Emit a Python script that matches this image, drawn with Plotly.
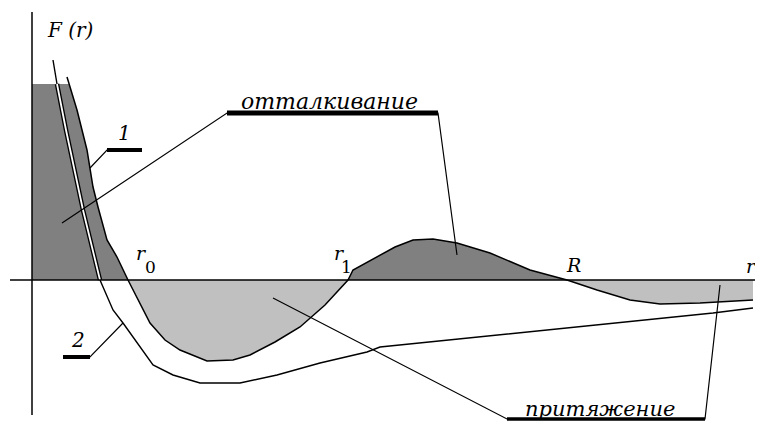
import plotly.graph_objects as go

# curve 1 (sharp line bounding the shaded areas): r, F(r)
r_curve1 = [3.5, 3.7, 4.5, 5.5, 6.1, 6.6, 7.5, 8.5, 9.6, 11.8, 13.3, 14.8, 17.5,
            20.1, 21.8, 24.3, 26.8, 29.3, 31.6, 32.1, 34.5, 36.3, 38.1, 40.1,
            42.5, 45.8, 49.8, 53.5, 56.5, 59.8, 62.8, 66.8, 72.1]
F_curve1 = [20.3, 19.6, 17.0, 13.0, 9.3, 7.3, 4.0, 2.3, 0.0, -4.3, -6.0, -7.0,
            -8.1, -8.0, -7.5, -6.2, -4.7, -2.5, 0.0, 1.0, 2.3, 3.3, 4.0, 4.1,
            3.7, 2.7, 1.0, 0.0, -1.0, -2.0, -2.4, -2.3, -2.0]

# curve 2 (smooth curve without the second hump)
r_curve2 = [2.1, 2.5, 3.4, 5.1, 6.8, 8.1, 9.1, 10.5, 12.1, 14.1, 16.8, 20.8,
            24.5, 28.8, 33.5, 34.8, 43.8, 54.8, 68.1, 72.1]
F_curve2 = [22.0, 19.6, 15.0, 7.0, 0.0, -3.0, -4.3, -6.3, -8.5, -9.5, -10.3,
            -10.3, -9.5, -8.3, -7.2, -6.7, -5.8, -4.7, -3.3, -2.8]

F_cap = 19.6          # flat top of the repulsion area
i_r0, i_r1, i_R = 8, 18, 27

# leader lines for the labels
rep_r = [3.0, 19.5, 40.6, 42.5]
rep_F = [5.7, 16.7, 16.7, 2.5]
att_r = [24.1, 47.5, 67.3, 68.8]
att_F = [-1.8, -13.9, -13.9, -0.5]
one_r = [5.8, 7.5, 11.0]
one_F = [11.2, 13.0, 13.0]
two_r = [9.1, 5.8, 3.1]
two_F = [-4.3, -7.7, -7.7]

DARK = "#808080"
LIGHT = "#c0c0c0"
SERIF = "DejaVu Serif"

fig = go.Figure()


def add_fill(xs, ys, color):
    fig.add_trace(go.Scatter(x=xs, y=ys, mode="lines", fill="toself",
                             fillcolor=color, line=dict(width=0),
                             hoverinfo="skip", showlegend=False))


def add_line(xs, ys, width=1.4, color="black"):
    fig.add_trace(go.Scatter(x=xs, y=ys, mode="lines",
                             line=dict(color=color, width=width),
                             hoverinfo="skip", showlegend=False))


# shaded areas
add_fill([0, 0] + r_curve1[1:i_r0 + 1], [0, F_cap] + F_curve1[1:i_r0 + 1], DARK)
add_fill(r_curve1[i_r0:i_r1 + 1], F_curve1[i_r0:i_r1 + 1], LIGHT)
add_fill(r_curve1[i_r1:i_R + 1], F_curve1[i_r1:i_R + 1], DARK)
add_fill(r_curve1[i_R:] + [r_curve1[-1]], F_curve1[i_R:] + [0], LIGHT)

# curves
add_line(r_curve1, F_curve1, 1.5)
add_line(r_curve2, F_curve2, 1.4)
add_line(r_curve2[1:5], F_curve2[1:5], 4.5)
add_line(r_curve2[1:5], F_curve2[1:5], 1.8, "white")

# axes
add_line([0, 0], [26.8, -13.5], 1.5)
add_line([-2.2, 73.1], [0, 0], 1.5)

# leader lines and underlines
for xs, ys in [(rep_r, rep_F), (att_r, att_F), (one_r, one_F), (two_r, two_F)]:
    add_line(xs, ys, 1.2)
add_line(rep_r[1:3], rep_F[1:3], 5)
add_line(att_r[1:3], att_F[1:3], 3.5)
add_line(one_r[1:3], one_F[1:3], 4)
add_line(two_r[1:3], two_F[1:3], 4)

labels = [
    ("<i>F (r)</i>", 3.8, 25.0, 20),
    ("<i>отталкивание</i>", 29.7, 17.9, 22),
    ("<i>притяжение</i>", 56.8, -12.9, 21),
    ("<i>1</i>", 9.2, 14.7, 20),
    ("<i>2</i>", 4.6, -6.0, 20),
    ("<i>r</i>", 10.9, 2.7, 19),
    ("0", 11.8, 1.3, 17),
    ("<i>r</i>", 30.7, 2.7, 19),
    ("1", 31.4, 1.3, 17),
    ("<i>R</i>", 54.1, 1.5, 19),
    ("<i>r</i>", 71.9, 1.4, 19),
]
for text, x, y, size in labels:
    fig.add_annotation(x=x, y=y, text=text, showarrow=False,
                       font=dict(family=SERIF, size=size, color="black"))

# the page puts the plot 8px in from the top-left corner
fig.update_layout(
    width=755, height=413,
    margin=dict(l=0, r=0, t=0, b=0),
    paper_bgcolor="white", plot_bgcolor="white",
    xaxis=dict(range=[-2.4, 73.1], visible=False),
    yaxis=dict(range=[-14.1, 27.2], visible=False),
)

fig.write_html("out.html")
